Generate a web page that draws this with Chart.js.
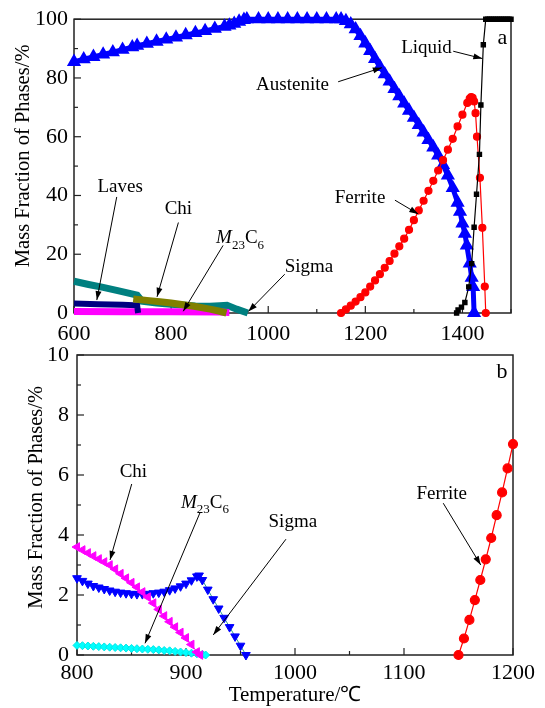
<!DOCTYPE html>
<html>
<head>
<meta charset="utf-8">
<script src="https://cdn.jsdelivr.net/npm/chart.js@4.4.1/dist/chart.umd.min.js"></script>
<style>
  body { margin: 0; background: #fff; }
  #wrap { position: relative; width: 545px; height: 708px; }
  #boxA { position: absolute; left: 0; top: 0; }
  #boxB { position: absolute; left: 0; top: 330px; }
</style>
</head>
<body>
<div id="wrap">
  <div id="boxA"><canvas id="chartA" width="545" height="350"></canvas></div>
  <div id="boxB"><canvas id="chartB" width="545" height="378"></canvas></div>
</div>
<script>
// ---- panel a: 600-1500 C ----
const austT = [600, 620, 640, 660, 680, 700, 720, 730, 750, 770, 790, 810, 830, 850, 870, 890, 910, 920, 930, 940, 950, 956,
  980, 1000, 1020, 1040, 1060, 1080, 1100, 1120, 1140, 1150,
  1160, 1170, 1180, 1190, 1200, 1210, 1220, 1230, 1240, 1250, 1260, 1270, 1280, 1290, 1300, 1310, 1320, 1330, 1340, 1350,
  1360, 1370, 1380, 1390, 1395, 1400, 1405, 1409, 1415, 1419, 1422, 1424];
const austW = [85.5, 86.4, 87.2, 88.0, 88.8, 89.6, 90.5, 91.0, 91.7, 92.4, 93.1, 93.8, 94.6, 95.3, 96.0, 96.8, 97.5, 97.9, 98.5, 99.2, 99.8, 100,
  100, 100, 100, 100, 100, 100, 100, 100, 100, 100,
  99.4, 98.3, 96.6, 94.3, 91.8, 89.2, 86.5, 83.8, 81.3, 78.8, 76.3, 73.8, 71.3, 68.9, 66.5, 64.0, 61.5, 58.9, 56.4, 53.6,
  50.4, 46.8, 42.6, 37.6, 34.5, 30.5, 27.0, 23.0, 16.9, 12.0, 8.9, 0];

const ferrT = [1150, 1160, 1170, 1180, 1190, 1200, 1210, 1220, 1230, 1240, 1250, 1260, 1270, 1280, 1290, 1300, 1310, 1320,
  1330, 1340, 1350, 1360, 1370, 1380, 1390, 1400, 1410, 1415, 1418, 1421, 1424, 1427, 1430, 1436, 1441, 1446, 1448];
const ferrW = [0, 1.2, 2.5, 3.9, 5.4, 7.0, 9.0, 11.1, 13.2, 15.4, 17.7, 20.2, 22.7, 25.3, 28.3, 31.6, 34.9, 38.2,
  41.6, 45.0, 48.5, 52.0, 55.6, 59.3, 63.5, 67.5, 71.5, 73.0, 73.5, 73.2, 72.0, 68.0, 60.0, 46.0, 29.0, 9.0, 0];

const liqT = [1388, 1391, 1398, 1405, 1413, 1419, 1424, 1429, 1435, 1438, 1443, 1448,
  1452, 1456, 1460, 1464, 1468, 1472, 1476, 1480, 1484, 1488, 1492, 1496, 1500];
const liqW = [0, 1.0, 2.0, 3.6, 8.9, 16.8, 29.2, 40.4, 54.0, 70.8, 91.3, 100,
  100, 100, 100, 100, 100, 100, 100, 100, 100, 100, 100, 100, 100];

const sigATopT = [600, 630, 660, 690, 730, 740, 770, 800, 850, 880, 900, 915, 935, 958];
const sigATopW = [10.8, 9.7, 8.7, 7.6, 6.1, 4.0, 3.4, 3.0, 2.4, 2.3, 2.5, 2.6, 1.3, 0];

const lavesT = [600, 650, 700, 730, 732];
const lavesW = [3.2, 3.0, 2.8, 2.6, 0];

const chiTopT = [722, 750, 777, 800, 850, 880, 900, 914];
const chiTopW = [4.8, 4.3, 3.8, 3.4, 2.2, 1.3, 0.6, 0];

const m23TopT = [600, 700, 800, 900, 920];
const m23TopW = [0.5, 0.45, 0.4, 0.3, 0.2];

// ---- panel b: 800-1200 C ----
const chiT = [800, 805, 810, 815, 820, 825, 830, 835, 840, 845, 850, 855, 860, 865, 870, 875, 880, 885, 890, 895, 900, 905, 910, 913];
const chiW = [3.60, 3.50, 3.40, 3.30, 3.20, 3.10, 3.00, 2.86, 2.71, 2.56, 2.41, 2.26, 2.10, 1.93, 1.73, 1.52, 1.30, 1.11, 0.93, 0.75, 0.57, 0.35, 0.10, 0];

const sigT = [800, 805, 810, 815, 820, 825, 830, 835, 840, 845, 850, 855, 860, 865, 870, 875, 880, 885, 890, 895, 900, 905, 910,
  912, 915, 920, 925, 930, 935, 940, 945, 950, 955];
const sigW = [2.56, 2.47, 2.38, 2.30, 2.25, 2.20, 2.15, 2.11, 2.08, 2.06, 2.04, 2.03, 2.03, 2.04, 2.06, 2.08, 2.11, 2.16, 2.22, 2.29, 2.38, 2.49, 2.62,
  2.65, 2.50, 2.18, 1.86, 1.55, 1.24, 0.93, 0.62, 0.31, 0];

const m23T = [800, 805, 810, 815, 820, 825, 830, 835, 840, 845, 850, 855, 860, 865, 870, 875, 880, 885, 890, 895, 900, 905, 910, 915, 918];
const m23W = [0.32, 0.31, 0.30, 0.29, 0.28, 0.27, 0.26, 0.25, 0.24, 0.23, 0.22, 0.21, 0.20, 0.19, 0.18, 0.17, 0.15, 0.14, 0.12, 0.10, 0.08, 0.06, 0.04, 0.02, 0];

const ferrBT = [1150, 1155, 1160, 1165, 1170, 1175, 1180, 1185, 1190, 1195, 1200];
const ferrBW = [0, 0.55, 1.17, 1.83, 2.5, 3.19, 3.9, 4.66, 5.42, 6.22, 7.03];

const serif = '"Liberation Serif", "Times New Roman", serif';
Chart.defaults.font.family = serif;
Chart.defaults.color = "#000";

// leading spaces nudge the rotated title up a little, like the original
const yTitleA = "\u00a0\u00a0\u00a0\u00a0Mass Fraction of Phases/%";
const yTitleB = "\u00a0\u00a0\u00a0Mass Fraction of Phases/%";

function pts(xs, ys) {
  return xs.map((x, i) => ({ x: x, y: ys[i] }));
}

function arrow(ctx, x1, y1, x2, y2) {
  ctx.beginPath();
  ctx.moveTo(x1, y1);
  ctx.lineTo(x2, y2);
  ctx.stroke();
  const a = Math.atan2(y2 - y1, x2 - x1);
  const len = 9, w = 3;
  ctx.beginPath();
  ctx.moveTo(x2, y2);
  ctx.lineTo(x2 - len * Math.cos(a) + w * Math.sin(a), y2 - len * Math.sin(a) - w * Math.cos(a));
  ctx.lineTo(x2 - len * Math.cos(a) - w * Math.sin(a), y2 - len * Math.sin(a) + w * Math.cos(a));
  ctx.closePath();
  ctx.fill();
}

function drawM23(ctx, cx, cy, size) {
  const parts = [
    ["M", "italic " + size + "px " + serif, 0],
    ["23", Math.round(size * 0.7) + "px " + serif, size * 0.28],
    ["C", size + "px " + serif, 0],
    ["6", Math.round(size * 0.7) + "px " + serif, size * 0.28],
  ];
  let total = 0;
  parts.forEach(p => { ctx.font = p[1]; total += ctx.measureText(p[0]).width; });
  let x = cx - total / 2;
  ctx.textAlign = "left";
  ctx.textBaseline = "alphabetic";
  parts.forEach(p => {
    ctx.font = p[1];
    ctx.fillText(p[0], x, cy + size * 0.33 + p[2]);
    x += ctx.measureText(p[0]).width;
  });
}

// frame and inward ticks, drawn under the data
const framePlugin = {
  id: "frame",
  beforeDatasetsDraw(chart, args, opts) {
    const { ctx, chartArea: a, scales: { x, y } } = chart;
    ctx.save();
    ctx.strokeStyle = "#222";
    ctx.lineWidth = 1.5;
    ctx.strokeRect(a.left, a.top, a.right - a.left, a.bottom - a.top);
    ctx.lineWidth = 1.2;
    for (let v = x.min; v <= x.max + 1e-6; v += opts.xMinor) {
      const px = x.getPixelForValue(v);
      const major = Math.abs(v % opts.xMajor) < 1e-6;
      ctx.beginPath();
      ctx.moveTo(px, a.bottom);
      ctx.lineTo(px, a.bottom - (major ? 7 : 4));
      ctx.stroke();
    }
    for (let v = y.min; v <= y.max + 1e-6; v += opts.yMinor) {
      const py = y.getPixelForValue(v);
      const major = Math.abs(v % opts.yMajor) < 1e-6;
      ctx.beginPath();
      ctx.moveTo(a.left, py);
      ctx.lineTo(a.left + (major ? 7 : 4), py);
      ctx.stroke();
    }
    ctx.restore();
  },
  afterDatasetsDraw(chart, args, opts) {
    const { ctx, scales: { x, y } } = chart;
    ctx.save();
    ctx.fillStyle = "#000";
    ctx.strokeStyle = "#000";
    ctx.lineWidth = 1;
    opts.notes.forEach(n => {
      const tx = x.getPixelForValue(n.x), ty = y.getPixelForValue(n.y);
      if (n.text === "M23C6") {
        drawM23(ctx, tx, ty, opts.noteSize);
      } else {
        ctx.font = (n.size || opts.noteSize) + "px " + serif;
        ctx.textAlign = "center";
        ctx.textBaseline = "middle";
        ctx.fillText(n.text, tx, ty);
      }
      if (n.from) {
        arrow(ctx, x.getPixelForValue(n.from[0]), y.getPixelForValue(n.from[1]),
          x.getPixelForValue(n.to[0]), y.getPixelForValue(n.to[1]));
      }
    });
    ctx.restore();
  }
};

function bandSet(data, color, width) {
  return { data: data, borderColor: color, backgroundColor: color, borderWidth: width, pointRadius: 0, clip: false };
}

const plainTick = v => String(v);

// first dataset is drawn on top
const chartA = new Chart("chartA", {
  type: "line",
  data: {
    datasets: [
      {
        data: pts(liqT, liqW), borderColor: "#000", backgroundColor: "#000", borderWidth: 1.2,
        pointStyle: "rect", pointRadius: 3, clip: false,
      },
      {
        data: pts(ferrT, ferrW), borderColor: "#ff0000", backgroundColor: "#ff0000", borderWidth: 1.2,
        pointStyle: "circle", pointRadius: 3.5, clip: false,
      },
      {
        data: pts(austT, austW), borderColor: "#0000ff", backgroundColor: "#0000ff", borderWidth: 5,
        pointStyle: "triangle", pointRadius: 3.2, clip: false,
      },
      bandSet(pts(chiTopT, chiTopW), "#808000", 7),
      bandSet(pts(lavesT, lavesW), "#000080", 6),
      bandSet(pts(m23TopT, m23TopW), "#ff00ff", 7),
      bandSet(pts(sigATopT, sigATopW), "#008080", 7),
    ],
  },
  options: {
    responsive: false,
    animation: false,
    events: [],
    layout: { padding: { left: 0, top: 17, right: 34, bottom: 0 } },
    plugins: {
      legend: { display: false },
      tooltip: { enabled: false },
      frame: {
        xMinor: 100, xMajor: 200, yMinor: 10, yMajor: 20, noteSize: 19,
        notes: [
          { text: "Laves", x: 695, y: 43, from: [688, 39.5], to: [647, 4.4] },
          { text: "Chi", x: 815, y: 35.4, from: [815, 30.8], to: [771, 5.5] },
          { text: "M23C6", x: 942, y: 25.8, from: [907, 23], to: [825, 0.6] },
          { text: "Sigma", x: 1084, y: 15.6, from: [1034, 13.2], to: [959, 0.5] },
          { text: "Austenite", x: 1050, y: 77.6, from: [1144, 78.7], to: [1234, 83.5] },
          { text: "Ferrite", x: 1189, y: 39.1, from: [1261, 38.4], to: [1309, 33.7] },
          { text: "Liquid", x: 1326, y: 90.2, from: [1381, 89.1], to: [1441, 86.6] },
          { text: "a", x: 1482, y: 93.6, size: 22 },
        ],
      },
    },
    scales: {
      x: {
        type: "linear", min: 600, max: 1500,
        grid: { display: false, drawTicks: false }, border: { display: false },
        ticks: { stepSize: 200, includeBounds: false, padding: 8, font: { size: 22 }, color: "#000", callback: plainTick },
        afterFit: s => { s.height = 37; },
      },
      y: {
        min: 0, max: 100,
        grid: { display: false, drawTicks: false }, border: { display: false },
        ticks: { stepSize: 20, padding: 6, font: { size: 22 }, color: "#000", callback: plainTick },
        title: { display: true, text: yTitleA, font: { size: 20.5 }, padding: { top: 11, bottom: 0 } },
        afterFit: s => { s.width = 74; },
      },
    },
  },
  plugins: [framePlugin],
});

const chartB = new Chart("chartB", {
  type: "line",
  data: {
    datasets: [
      {
        data: pts(ferrBT, ferrBW), borderColor: "#ff0000", backgroundColor: "#ff0000", borderWidth: 1.2,
        pointStyle: "circle", pointRadius: 4.5, clip: false,
      },
      {
        data: pts(chiT, chiW), borderColor: "#ff00ff", backgroundColor: "#ff00ff", borderWidth: 1,
        pointStyle: "triangle", rotation: 270, pointRadius: 5, clip: false,
      },
      {
        data: pts(sigT, sigW), borderColor: "#2a9d8f", backgroundColor: "#0000ff", borderWidth: 1,
        pointStyle: "triangle", rotation: 180, pointRadius: 5, pointBorderColor: "#0000ff", clip: false,
      },
      {
        data: pts(m23T, m23W), borderColor: "#00e5e5", backgroundColor: "#00ffff", borderWidth: 1,
        pointStyle: "rectRot", pointRadius: 4, clip: false,
      },
    ],
  },
  options: {
    responsive: false,
    animation: false,
    events: [],
    layout: { padding: { left: 0, top: 25, right: 32, bottom: 0 } },
    plugins: {
      legend: { display: false },
      tooltip: { enabled: false },
      frame: {
        xMinor: 50, xMajor: 100, yMinor: 1, yMajor: 2, noteSize: 19,
        notes: [
          { text: "Chi", x: 851.7, y: 6.11, from: [850.2, 5.7], to: [830.3, 3.17] },
          { text: "M23C6", x: 917.4, y: 5.11, from: [912.8, 4.74], to: [862.4, 0.39] },
          { text: "Sigma", x: 998, y: 4.44, from: [991.7, 3.86], to: [925, 0.67] },
          { text: "Ferrite", x: 1134.6, y: 5.37, from: [1136, 5.06], to: [1170.4, 3.0] },
          { text: "b", x: 1190, y: 9.41, size: 22 },
        ],
      },
    },
    scales: {
      x: {
        type: "linear", min: 800, max: 1200,
        grid: { display: false, drawTicks: false }, border: { display: false },
        ticks: { stepSize: 100, padding: 5, font: { size: 22 }, color: "#000", callback: plainTick },
        title: { display: true, text: "Temperature/℃", font: { size: 21 }, padding: { top: 0, bottom: 0 } },
        afterFit: s => { s.height = 53; },
      },
      y: {
        min: 0, max: 10,
        grid: { display: false, drawTicks: false }, border: { display: false },
        ticks: { stepSize: 2, padding: 8, font: { size: 22 }, color: "#000", callback: plainTick },
        title: { display: true, text: yTitleB, font: { size: 20.5 }, padding: { top: 24, bottom: 0 } },
        afterFit: s => { s.width = 77; },
      },
    },
  },
  plugins: [framePlugin],
});
</script>
</body>
</html>
